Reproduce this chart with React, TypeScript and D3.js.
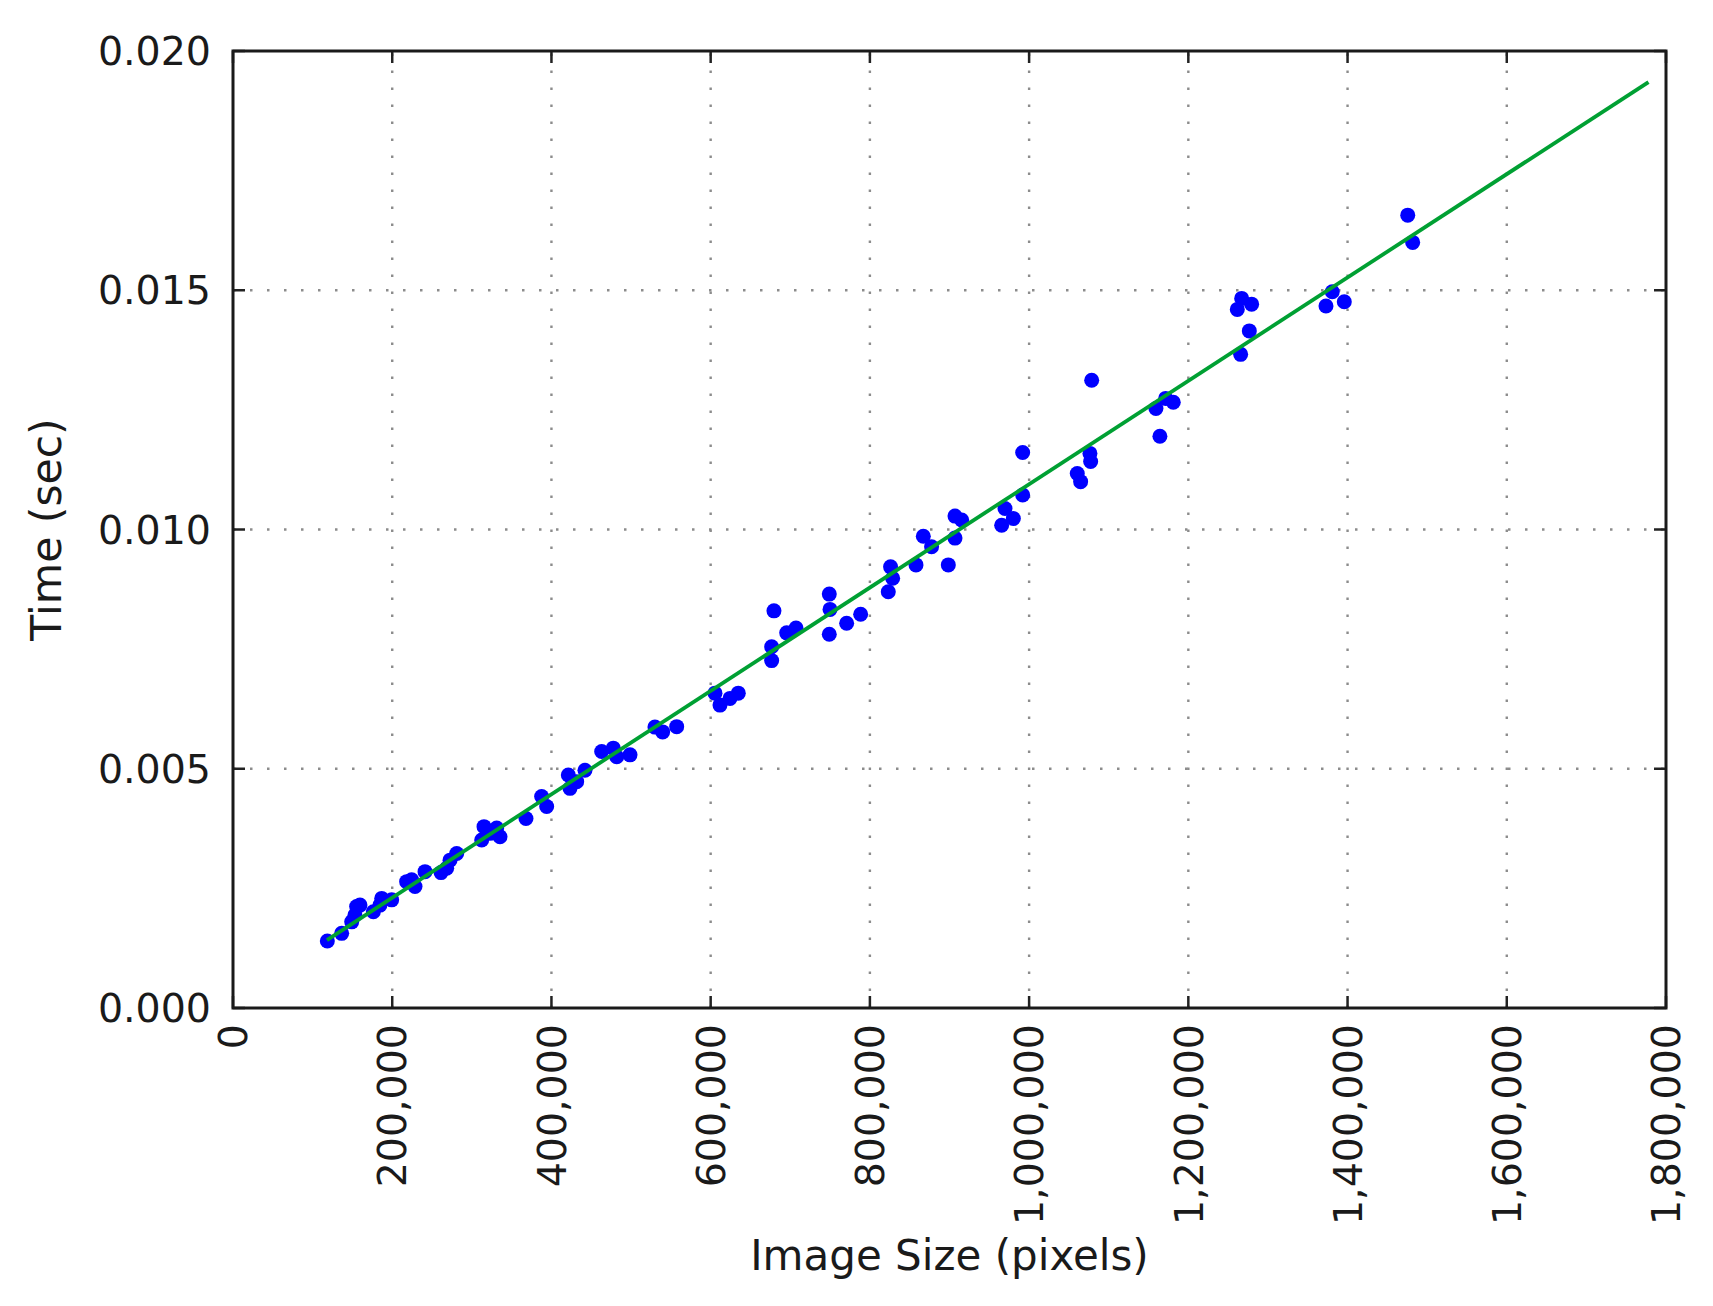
import React from "react";
import * as d3 from "d3";

const pointX: number[] = [
  118500, 136500, 149100, 153200, 155300, 159500, 176300, 184600, 186800, 199300,
  218100, 224400, 228600, 241200, 261300, 268400, 272600, 281000, 312400, 315300,
  322800, 331200, 335400, 368000, 387700, 394000, 421200, 423300, 431700, 442100,
  463100, 477700, 482000, 498700, 530000, 539700, 557300, 605400, 611700, 624300,
  634700, 676600, 676600, 679500, 695500, 707200, 749000, 749900, 749000, 770800,
  788400, 823100, 826000, 828600, 857900, 867100, 877500, 898500, 906900, 915300,
  906900, 965500, 969700, 980200, 991900, 991900, 1060500, 1064700, 1076400, 1077300,
  1078600, 1159300, 1164300, 1171500, 1181100, 1261500, 1265700, 1267000, 1276600, 1279500,
  1372900, 1380800, 1395900, 1475600, 1481800,
];
const pointY: number[] = [
  0.0014, 0.00156, 0.0018, 0.00194, 0.00212, 0.00215, 0.00201, 0.00215, 0.00229, 0.00226,
  0.00264, 0.00268, 0.00254, 0.00285, 0.00283, 0.00292, 0.00309, 0.00323, 0.00351, 0.00379,
  0.00365, 0.00376, 0.00358, 0.00396, 0.00442, 0.00421, 0.00487, 0.00459, 0.00473, 0.00497,
  0.00536, 0.00543, 0.00525, 0.00529, 0.00587, 0.00577, 0.00588, 0.00658, 0.00633, 0.00647,
  0.00658, 0.00755, 0.00726, 0.0083, 0.00784, 0.00794, 0.00865, 0.00833, 0.00781, 0.00804,
  0.00823, 0.0087, 0.00922, 0.00898, 0.00926, 0.00986, 0.00964, 0.00926, 0.01028, 0.0102,
  0.00982, 0.01009, 0.01044, 0.01023, 0.01072, 0.01161, 0.01117, 0.011, 0.01159, 0.01142,
  0.01312, 0.01253, 0.01195, 0.01274, 0.01266, 0.0146, 0.01366, 0.01483, 0.01415, 0.01471,
  0.01467, 0.01497, 0.01476, 0.01657, 0.016,
];
const fitX: number[] = [118000, 1778000];
const fitY: number[] = [0.00142, 0.01935];

const xTicks: number[] = [0, 200000, 400000, 600000, 800000, 1000000, 1200000, 1400000, 1600000, 1800000];
const yTicks: number[] = [0, 0.005, 0.01, 0.015, 0.02];

const xLabel = "Image Size (pixels)";
const yLabel = "Time (sec)";

const W = 1713;
const H = 1306;
const M = { left: 233, top: 51, right: 1666, bottom: 1008 };
const FONT = "DejaVu Sans, sans-serif";
const TXT = "#1a1a1a";

export default function App() {
  const x = d3.scaleLinear().domain([0, 1800000]).range([M.left, M.right]);
  const y = d3.scaleLinear().domain([0, 0.02]).range([M.bottom, M.top]);
  const fmtX = d3.format(",");
  const fmtY = d3.format(".3f");
  const line = d3
    .line<number>()
    .x((_, i) => x(fitX[i]))
    .y((_, i) => y(fitY[i]));
  const tickLen = 12;

  return (
    <svg
      width={W}
      height={H}
      style={{ position: "absolute", left: 0, top: 0, background: "#fff" }}
    >
      <rect x={0} y={0} width={W} height={H} fill="#fff" />
      {/* grid */}
      <g stroke="#8c8c8c" strokeWidth={2.4} strokeDasharray="2.5 14.5" fill="none">
        {xTicks.slice(1, -1).map((t) => (
          <line key={"gx" + t} x1={x(t)} x2={x(t)} y1={M.bottom} y2={M.top} />
        ))}
        {yTicks.slice(1, -1).map((t) => (
          <line key={"gy" + t} x1={M.left} x2={M.right} y1={y(t)} y2={y(t)} />
        ))}
      </g>
      {/* ticks */}
      <g stroke="#222" strokeWidth={2.5}>
        {xTicks.map((t) => (
          <g key={"tx" + t}>
            <line x1={x(t)} x2={x(t)} y1={M.bottom} y2={M.bottom - tickLen} />
            <line x1={x(t)} x2={x(t)} y1={M.top} y2={M.top + tickLen} />
          </g>
        ))}
        {yTicks.map((t) => (
          <g key={"ty" + t}>
            <line x1={M.left} x2={M.left + tickLen} y1={y(t)} y2={y(t)} />
            <line x1={M.right} x2={M.right - tickLen} y1={y(t)} y2={y(t)} />
          </g>
        ))}
      </g>
      {/* data */}
      <g fill="#0000ff">
        {pointX.map((v, i) => (
          <circle key={"p" + i} cx={x(v)} cy={y(pointY[i])} r={7.5} />
        ))}
      </g>
      <path d={line(fitX) || ""} fill="none" stroke="#00a033" strokeWidth={3.8} />
      {/* frame */}
      <rect
        x={M.left}
        y={M.top}
        width={M.right - M.left}
        height={M.bottom - M.top}
        fill="none"
        stroke="#1a1a1a"
        strokeWidth={3}
      />
      {/* y tick labels */}
      <g fontFamily={FONT} fontSize={39.5} fill={TXT} textAnchor="end">
        {yTicks.map((t) => (
          <text key={"ly" + t} x={M.left - 22} y={y(t)} dy="0.36em">
            {fmtY(t)}
          </text>
        ))}
      </g>
      {/* x tick labels */}
      <g fontFamily={FONT} fontSize={39.5} fill={TXT} textAnchor="end">
        {xTicks.map((t) => (
          <text
            key={"lx" + t}
            transform={`translate(${x(t)},${M.bottom + 16}) rotate(-90)`}
            dy="0.36em"
          >
            {fmtX(t)}
          </text>
        ))}
      </g>
      <text
        x={(M.left + M.right) / 2}
        y={1270}
        fontFamily={FONT}
        fontSize={42}
        fill={TXT}
        textAnchor="middle"
      >
        {xLabel}
      </text>
      <text
        transform={`translate(46,${(M.top + M.bottom) / 2}) rotate(-90)`}
        fontFamily={FONT}
        fontSize={42.5}
        fill={TXT}
        textAnchor="middle"
        dy="0.36em"
      >
        {yLabel}
      </text>
    </svg>
  );
}
